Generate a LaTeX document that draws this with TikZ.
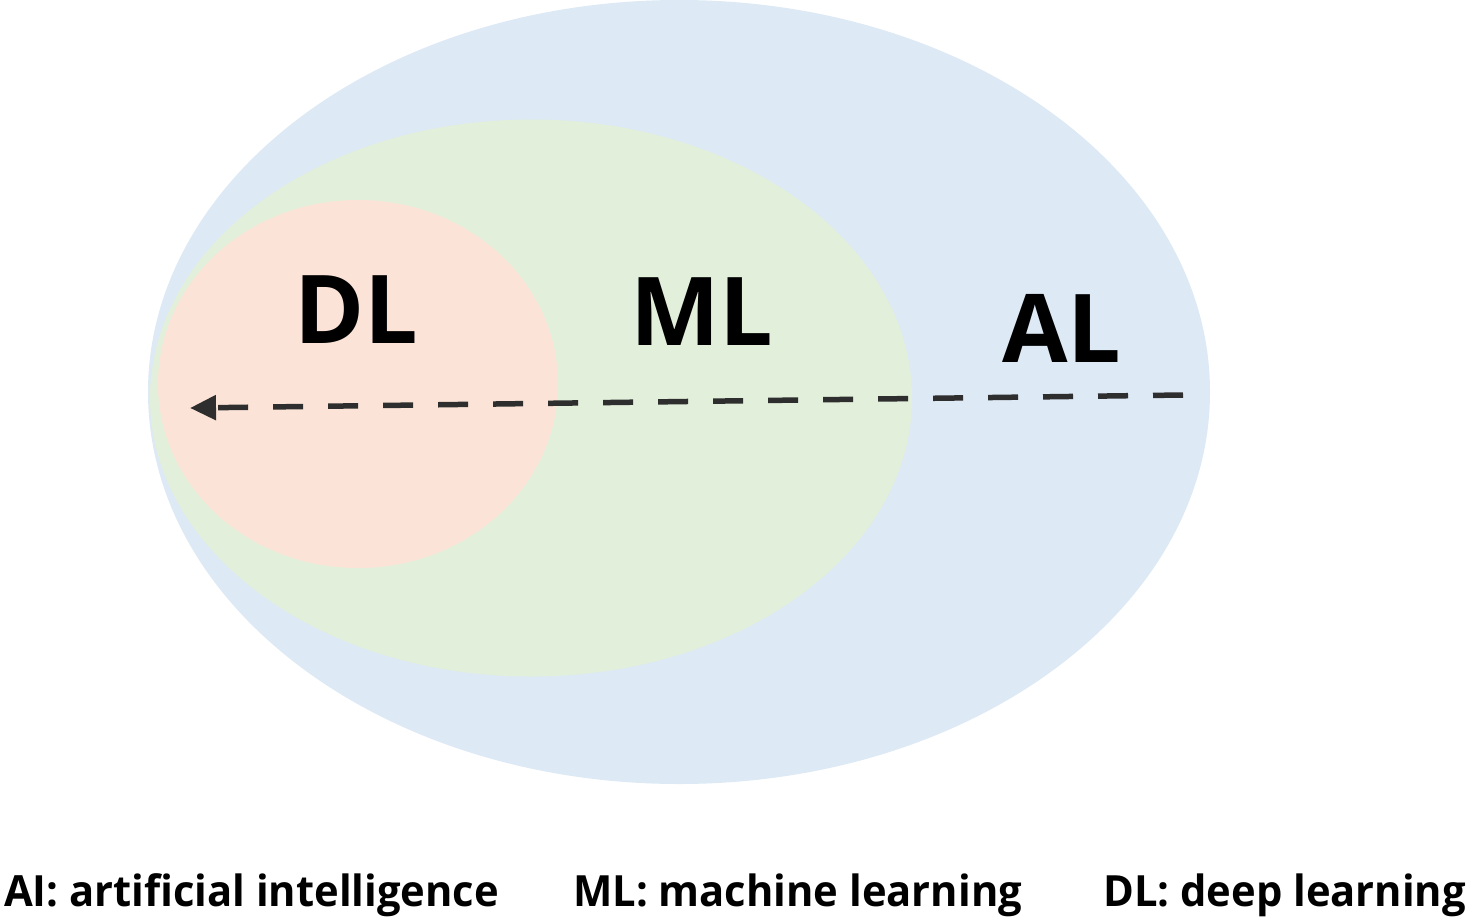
\documentclass[tikz,border=0pt]{standalone}
\usepackage{fontspec}
\setmainfont{Open Sans}
\usetikzlibrary{shapes.geometric,arrows.meta}
\definecolor{aiblue}{HTML}{DDE9F5}
\definecolor{mlgreen}{HTML}{E2EFDA}
\definecolor{dlpink}{HTML}{FBE4D7}
\definecolor{arrowgray}{HTML}{2E2E2E}
\tikzset{
  region/.style={ellipse, draw=none, inner sep=0pt},
  biglabel/.style={font=\fontsize{95}{95}\selectfont\bfseries, text=black, inner sep=0pt, anchor=base},
  legend/.style={font=\fontsize{43}{43}\selectfont\bfseries, text=black, inner sep=0pt, anchor=base west},
  flow/.style={draw=arrowgray, line width=5.5pt, dash pattern=on 30pt off 25pt, -{Triangle[length=26pt,width=24pt]}}
}
\begin{document}
\begin{tikzpicture}[x=1pt,y=-1pt]
\useasboundingbox (0,0) rectangle (1477,918);
\node[region, fill=aiblue, minimum width=1062pt, minimum height=784pt] (ai) at (679,392) {};
\node[region, fill=mlgreen, minimum width=762pt, minimum height=557pt] (ml) at (531,398) {};
\node[region, fill=dlpink, minimum width=400pt, minimum height=368pt] (dl) at (358,384) {};
\node[biglabel] (dlt) at (356,343) {DL};
\node[biglabel] (mlt) at (702,345) {ML};
\node[biglabel] (alt) at (1062,362) {AL};
\coordinate (start) at (1183,395);
\coordinate (end) at (190,408);
\draw[flow] (start) -- (end);
\node[legend] (l1) at (4,906) {\scalebox{0.97}[1]{AI: artificial intelligence}};
\node[legend] (l2) at (573,906) {\scalebox{0.97}[1]{ML: machine learning}};
\node[legend] (l3) at (1103,906) {\scalebox{0.97}[1]{DL: deep learning}};
\end{tikzpicture}
\end{document}
